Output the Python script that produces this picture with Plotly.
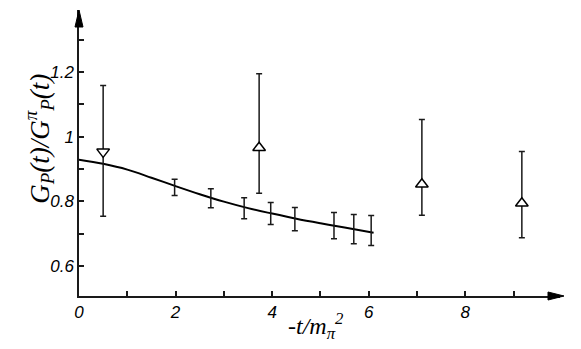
import plotly.graph_objects as go

# smooth curve
curve_t = [0, 0.5, 1, 1.5, 2, 2.5, 3, 3.5, 4, 4.5, 5, 5.5, 6.1]
curve_val = [0.929, 0.916, 0.898, 0.873, 0.847, 0.822, 0.799, 0.779, 0.762, 0.746, 0.732, 0.719, 0.703]

# error bars without markers (upper / lower ends)
bar_t = [1.98, 2.73, 3.42, 3.97, 4.47, 5.28, 5.69, 6.05]
bar_hi = [0.868, 0.839, 0.811, 0.796, 0.781, 0.765, 0.759, 0.756]
bar_lo = [0.818, 0.780, 0.746, 0.728, 0.709, 0.684, 0.669, 0.663]

# open up-triangles
up_t = [3.73, 7.1, 9.17]
up_val = [0.966, 0.853, 0.794]
up_hi = [1.195, 1.053, 0.954]
up_lo = [0.825, 0.757, 0.687]

# open down-triangle
down_t = [0.5]
down_val = [0.953]
down_hi = [1.158]
down_lo = [0.754]

x_ticks = [0, 2, 4, 6, 8]
x_labels = ["0", "2", "4", "6", "8"]
y_ticks = [0.6, 0.8, 1.0, 1.2]
y_labels = ["0.6", "0.8", "1", "1.2"]

INK = "#1a1a1a"

fig = go.Figure()

fig.add_trace(go.Scatter(
    x=curve_t, y=curve_val, mode="lines",
    line=dict(color="black", width=2, shape="spline"),
))

mid = [(h + l) / 2 for h, l in zip(bar_hi, bar_lo)]
fig.add_trace(go.Scatter(
    x=bar_t, y=mid, mode="markers",
    marker=dict(size=1, color="rgba(0,0,0,0)"),
    error_y=dict(type="data", symmetric=False,
                 array=[h - m for h, m in zip(bar_hi, mid)],
                 arrayminus=[m - l for m, l in zip(mid, bar_lo)],
                 color=INK, thickness=1.5, width=3),
))


def tri(t, v, hi, lo, symbol):
    return go.Scatter(
        x=t, y=v, mode="markers",
        marker=dict(symbol=symbol, size=11, color="white",
                    line=dict(color="black", width=1.5)),
        error_y=dict(type="data", symmetric=False,
                     array=[h - a for h, a in zip(hi, v)],
                     arrayminus=[a - l for a, l in zip(v, lo)],
                     color=INK, thickness=1.5, width=3),
    )


fig.add_trace(tri(up_t, up_val, up_hi, up_lo, "triangle-up"))
fig.add_trace(tri(down_t, down_val, down_hi, down_lo, "triangle-down"))

tick_font = dict(family="Liberation Sans", size=17, color="black", style="italic")

# page body adds 8px around the figure, so the figure is 8px smaller
fig.update_layout(
    width=573, height=341,
    margin=dict(l=71, r=21, t=2, b=53),
    paper_bgcolor="white", plot_bgcolor="white",
    showlegend=False,
    hovermode=False,
    xaxis=dict(range=[0, 9.96], showgrid=False, zeroline=False,
               showline=True, linecolor=INK, linewidth=1.5,
               ticks="inside", ticklen=5, tickwidth=1.5, tickcolor=INK,
               tickvals=x_ticks, ticktext=x_labels, tickfont=tick_font,
               minor=dict(dtick=1, ticks="inside", ticklen=5, tickwidth=1.5,
                          tickcolor=INK, showgrid=False)),
    yaxis=dict(range=[0.507, 1.392], showgrid=False, zeroline=False,
               showline=True, linecolor=INK, linewidth=1.5,
               ticks="inside", ticklen=5, tickwidth=1.5, tickcolor=INK,
               tickvals=y_ticks, ticktext=y_labels, tickfont=tick_font,
               minor=dict(tick0=0.6, dtick=0.1, ticks="inside", ticklen=5,
                          tickwidth=1.5, tickcolor=INK, showgrid=False)),
)

# filled arrowheads at the ends of both axes
fig.add_shape(type="path", xref="paper", yref="paper",
              xsizemode="pixel", ysizemode="pixel", xanchor=1, yanchor=0,
              path="M 4 0 L -12 4 L -12 -4 Z",
              fillcolor="black", line=dict(color="black", width=1))
fig.add_shape(type="path", xref="paper", yref="paper",
              xsizemode="pixel", ysizemode="pixel", xanchor=0, yanchor=1,
              path="M 0 0 L -4 -17 L 4 -17 Z",
              fillcolor="black", line=dict(color="black", width=1))

fig.add_annotation(
    xref="paper", yref="paper", x=0, y=0.55, xshift=-40, textangle=-90,
    xanchor="center", yanchor="middle", showarrow=False,
    text="G<sub>P</sub>(t)/G<sup>π</sup><sub>P</sub>(t)",
    font=dict(family="Liberation Serif", size=27, color="black", style="italic"),
)
fig.add_annotation(
    xref="x", yref="paper", x=4.9, y=0, yshift=-30,
    xanchor="center", yanchor="middle", showarrow=False,
    text="-t/m<sub>π</sub><sup>2</sup>",
    font=dict(family="Liberation Serif", size=24, color="black", style="italic"),
)

fig.write_html("out.html")
